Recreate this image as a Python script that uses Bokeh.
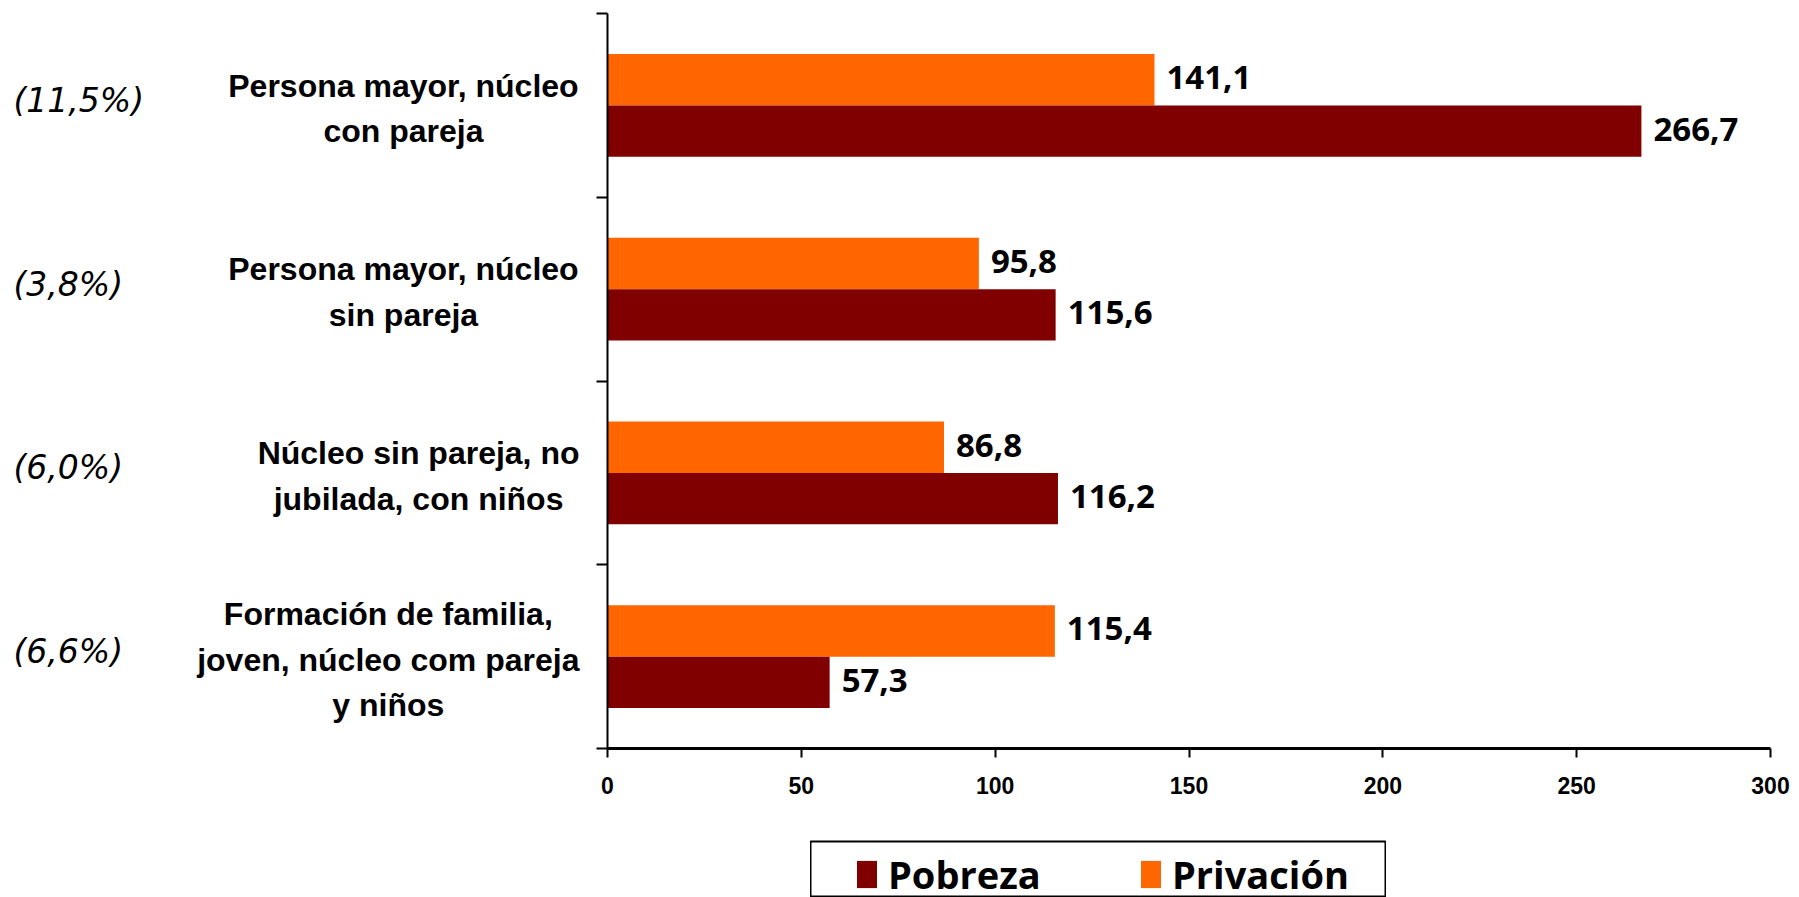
from bokeh.plotting import figure
from bokeh.layouts import row, column
from bokeh.models import (ColumnDataSource, Range1d, FixedTicker, LabelSet,
                          Legend, LegendItem, Spacer)
from bokeh.transform import dodge
from bokeh.core.properties import value
from bokeh.embed import file_html
from bokeh.resources import INLINE

# ---------------- data ----------------
categories = [
    "Persona mayor, núcleo\ncon pareja",
    "Persona mayor, núcleo\nsin pareja",
    "Núcleo sin pareja, no\njubilada, con niños",
    "Formación de familia,\njoven, núcleo com pareja\ny niños",
]
shares = ["(11,5%)", "(3,8%)", "(6,0%)", "(6,6%)"]
pobreza = [266.7, 115.6, 116.2, 57.3]
privacion = [141.1, 95.8, 86.8, 115.4]
series_names = ["Pobreza", "Privación"]
x_ticks = [0, 50, 100, 150, 200, 250, 300]

# ---------------- styles ----------------
C_POB = "#800000"
C_PRIV = "#FF6600"
BOLDFONT = "Liberation Sans"
VALFONT = "Open Sans"
PCTFONT = "DejaVu Sans"
CAT_FS = 32

W, H = 1799, 897
LEFT_W = 587          # width of the label strip
TOP_H = 834           # height of the chart row
FR_TOP, FR_BOT = 13, 86
CAT_RIGHT = 579       # right edge of the category label blocks

# approximate advance widths of Liberation Sans Bold (per 1000 em)
_AW = {' ': 278, ',': 278, 'F': 611, 'N': 722, 'P': 667, 'a': 556, 'b': 611,
       'c': 556, 'd': 611, 'e': 556, 'f': 333, 'i': 278, 'j': 278, 'l': 278,
       'm': 889, 'n': 611, 'o': 611, 'p': 611, 'r': 389, 's': 556, 'u': 611,
       'v': 556, 'y': 556, 'z': 500, 'á': 556, 'í': 278, 'ó': 611, 'ú': 611,
       'ñ': 611}


def block_width(txt, fs):
    return max(sum(_AW.get(ch, 556) for ch in line) for line in txt.split("\n")) * fs / 1000


n = len(categories)
ypos = [n - 0.5 - i for i in range(n)]


def fmt(v):
    return f"{v:.1f}".replace(".", ",")


src = ColumnDataSource(dict(
    y=ypos, cat=categories, share=shares,
    cat_x=[CAT_RIGHT - block_width(c, CAT_FS) / 2 for c in categories],
    pob=pobreza, priv=privacion,
    pob_txt=[fmt(v) for v in pobreza],
    priv_txt=[fmt(v) for v in privacion],
))

yr = Range1d(0, n)

# ---------------- main bar chart ----------------
p = figure(width=W - LEFT_W, height=TOP_H,
           x_range=Range1d(x_ticks[0], x_ticks[-1]), y_range=yr,
           output_backend="svg", toolbar_location=None, title=None,
           min_border_left=20, min_border_right=29,
           min_border_top=FR_TOP, min_border_bottom=FR_BOT)
p.outline_line_color = None
p.xgrid.visible = False
p.ygrid.visible = False

BAR_H = 0.28
r_priv = p.hbar(y=dodge("y", BAR_H / 2), left=0, right="priv", height=BAR_H,
                source=src, fill_color=C_PRIV, line_color=None)
r_pob = p.hbar(y=dodge("y", -BAR_H / 2), left=0, right="pob", height=BAR_H,
               source=src, fill_color=C_POB, line_color=None)

xa = p.xaxis[0]
xa.ticker = FixedTicker(ticks=x_ticks)
xa.minor_tick_line_color = None
xa.axis_line_width = 3
xa.axis_line_color = "black"
xa.major_tick_line_width = 2
xa.major_tick_out = 9
xa.major_tick_in = 0
xa.major_label_standoff = 19
xa.major_label_text_font = BOLDFONT
xa.major_label_text_font_size = "23px"
xa.major_label_text_font_style = "bold"
xa.major_label_text_color = "black"

# y axis: only boundary ticks between categories (no labels)
ya = p.yaxis[0]
ya.ticker = FixedTicker(ticks=[], minor_ticks=list(range(n + 1)))
ya.axis_line_width = 2
ya.axis_line_color = "black"
ya.major_tick_line_color = None
ya.minor_tick_line_width = 2
ya.minor_tick_line_color = "black"
ya.minor_tick_out = 11
ya.minor_tick_in = 0
ya.major_label_standoff = 0

for col, txt, off in (("priv", "priv_txt", BAR_H / 2), ("pob", "pob_txt", -BAR_H / 2)):
    p.add_layout(LabelSet(x=col, y=dodge("y", off), text=txt, source=src,
                          x_offset=12, y_offset=2, text_baseline="middle",
                          text_align="left", text_font=value(VALFONT),
                          text_font_size="33px", text_font_style="bold",
                          text_color="black"))

# ---------------- left label strip ----------------
lf = figure(width=LEFT_W, height=TOP_H, x_range=Range1d(0, LEFT_W), y_range=yr,
            output_backend="svg", toolbar_location=None, title=None,
            x_axis_location=None, y_axis_location=None,
            min_border_left=0, min_border_right=0,
            min_border_top=FR_TOP, min_border_bottom=FR_BOT)
lf.outline_line_color = None
lf.xgrid.visible = False
lf.ygrid.visible = False
lf.text(x="cat_x", y="y", text="cat", source=src, y_offset=3,
        text_align="center", text_baseline="middle",
        text_font=value(BOLDFONT), text_font_size=f"{CAT_FS}px",
        text_font_style="bold", text_line_height=1.27, text_color="black")
lf.text(x=13, y="y", text="share", source=src, y_offset=-5,
        text_align="left", text_baseline="middle",
        text_font=value(PCTFONT), text_font_size="33px",
        text_font_style="italic", text_color="black")

# ---------------- legend strip (its frame outline is the legend box) ----------------
LEG_X, LEG_R = 810, 1386
lg = figure(width=LEG_R - LEG_X, height=H - TOP_H, x_range=Range1d(0, 1),
            y_range=Range1d(0, 1), output_backend="svg", toolbar_location=None,
            title=None, x_axis_location=None, y_axis_location=None,
            min_border_left=0, min_border_right=0, min_border_bottom=0,
            min_border_top=7)
lg.outline_line_color = "black"
lg.outline_line_width = 2
lg.xgrid.visible = False
lg.ygrid.visible = False
g_pob = lg.hbar(y="y", right="pob", height=BAR_H, source=src,
                fill_color=C_POB, line_color=None, visible=False)
g_priv = lg.hbar(y="y", right="priv", height=BAR_H, source=src,
                 fill_color=C_PRIV, line_color=None, visible=False)
legend = Legend(items=[LegendItem(label=series_names[0], renderers=[g_pob]),
                       LegendItem(label=series_names[1], renderers=[g_priv])],
                orientation="horizontal", location=(44, -5), margin=0,
                glyph_width=25, glyph_height=34, label_standoff=9,
                label_width=190, label_height=56, spacing=60, padding=0,
                border_line_color=None, background_fill_alpha=0,
                inactive_fill_alpha=0,
                label_text_font=VALFONT, label_text_font_size="38px",
                label_text_font_style="bold", label_text_color="black")
lg.add_layout(legend)

layout = column(row(lf, p), row(Spacer(width=LEG_X, height=H - TOP_H), lg))

open("out.html", "w").write(file_html(layout, INLINE))
